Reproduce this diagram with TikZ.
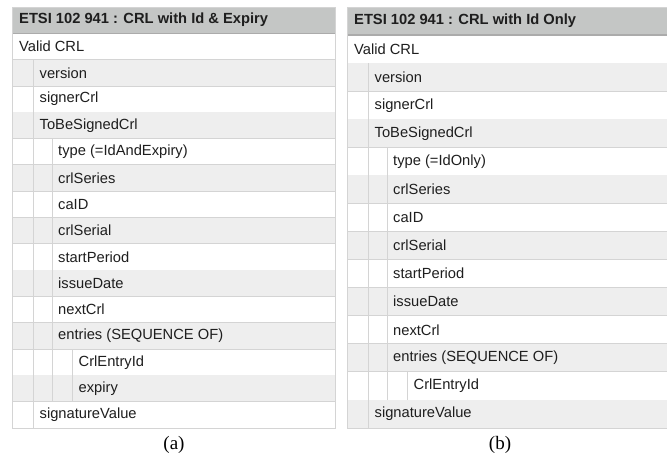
\documentclass[tikz,border=0pt]{standalone}
\usepackage{fontspec}
\setmainfont{Liberation Sans}
\newfontfamily\capfont{Liberation Serif}
\definecolor{hdr}{HTML}{C4C6C5}
\definecolor{band}{HTML}{EEEEEE}
\definecolor{rulec}{HTML}{D4D4D4}
\definecolor{hdrline}{HTML}{ABABAB}
\definecolor{txt}{HTML}{1E1E1E}
\tikzset{
  rowtext/.style={anchor=west, inner sep=0pt, text=txt, font=\fontsize{14.7}{16}\selectfont},
  hdrtext/.style={anchor=west, inner sep=0pt, text=txt, font=\fontsize{14.7}{16}\selectfont\bfseries},
  captext/.style={inner sep=0pt, text=black, font=\capfont\fontsize{19}{21}\selectfont},
  gridline/.style={draw=rulec, line width=0.8pt},
}
% #1 left x, #2 right x, #3 row height, #4 title, #5 rows, #6 name prefix
\newcommand{\crltable}[6]{%
  \fill[hdr] (#1,7) rectangle (#2,7+#3);
  \draw[hdrline, line width=1.2pt] (#1,7+#3) -- (#2,7+#3);
  \node[hdrtext] (#6h) at (#1+7,7+0.5*#3) {#4};
  \foreach \t/\l [count=\i] in {#5} {
    \pgfmathsetmacro{\ya}{7+\i*#3}
    \pgfmathsetmacro{\yb}{7+(\i+1)*#3}
    \pgfmathtruncatemacro{\odd}{mod(\i,2)}
    \ifnum\odd=0 \fill[band] (#1,\ya) rectangle (#2,\yb); \fi
    \draw[gridline] (#1,\yb) -- (#2,\yb);
    \ifnum\l>0 \draw[gridline] (#1+21.5,\ya) -- (#1+21.5,\yb); \fi
    \ifnum\l>1 \draw[gridline] (#1+40,\ya) -- (#1+40,\yb); \fi
    \ifnum\l>2 \draw[gridline] (#1+60.5,\ya) -- (#1+60.5,\yb); \fi
    \pgfmathsetmacro{\tx}{#1+7+(\l==1)*(21.5-1)+(\l==2)*(40-1)+(\l==3)*(60.5-1)}
    \node[rowtext] (#6\i) at (\tx,\ya+0.5*#3) {\t};
  }
  \draw[gridline] (#1,7) rectangle (#2,428);
}
\begin{document}
\begin{tikzpicture}[x=1pt,y=-1pt]
\useasboundingbox (0,0) rectangle (667,466);
\fill[white] (0,0) rectangle (667,466);
\crltable{12}{335}{26.3125}{ETSI 102 941 : CRL with Id \& Expiry}{%
  Valid CRL/0, version/1, signerCrl/1, ToBeSignedCrl/1,
  type (=IdAndExpiry)/2, crlSeries/2, caID/2, crlSerial/2, startPeriod/2,
  issueDate/2, nextCrl/2, entries (SEQUENCE OF)/2, CrlEntryId/3, expiry/3,
  signatureValue/1}{a}
\crltable{347}{667}{28.0667}{ETSI 102 941 : CRL with Id Only}{%
  Valid CRL/0, version/1, signerCrl/1, ToBeSignedCrl/1,
  type (=IdOnly)/2, crlSeries/2, caID/2, crlSerial/2, startPeriod/2,
  issueDate/2, nextCrl/2, entries (SEQUENCE OF)/2, CrlEntryId/3,
  signatureValue/1}{b}
\node[captext] (capa) at (174,445) {(a)};
\node[captext] (capb) at (500,445) {(b)};
\end{tikzpicture}
\end{document}
